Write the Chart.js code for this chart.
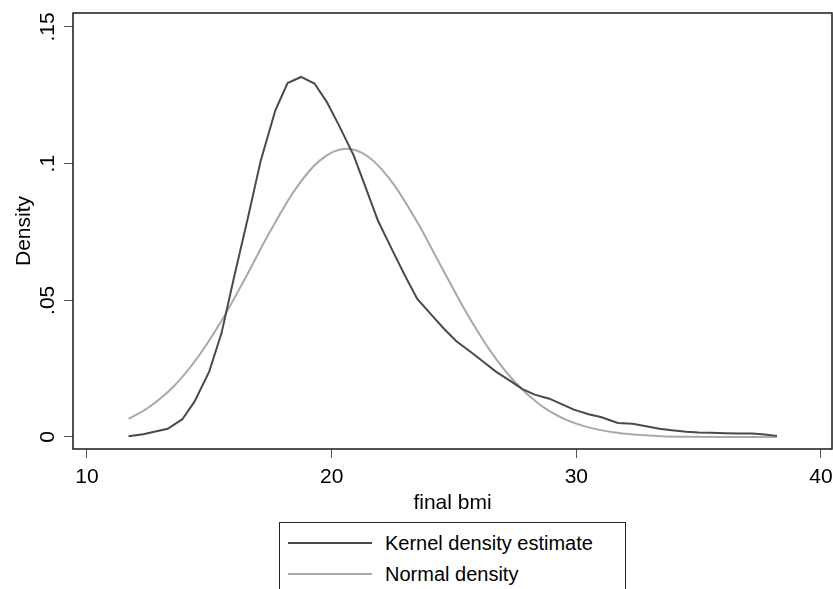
<!DOCTYPE html>
<html>
<head>
<meta charset="utf-8">
<script src="https://cdn.jsdelivr.net/npm/chart.js@4/dist/chart.umd.min.js"></script>
<style>
  html, body { margin: 0; padding: 0; background: #fff; }
  #wrap { position: relative; width: 833px; height: 589px; overflow: hidden; }
  #legend {
    position: absolute; left: 279px; top: 522px; width: 347px; height: 90px;
    border: 1px solid #222; background: #fff; box-sizing: border-box;
    font-family: "Liberation Sans", Arial, sans-serif; font-size: 20px; color: #000;
  }
  .row { position: absolute; left: 0; height: 24px; }
  .swatch { position: absolute; left: 8px; width: 84px; height: 2px; top: 11px; }
  .txt { position: absolute; left: 105px; top: 0; line-height: 24px; white-space: nowrap; }
</style>
</head>
<body>
<div id="wrap">
  <canvas id="c" width="833" height="589"></canvas>
  <div id="legend"></div>
</div>
<script>
// Kernel density estimate of final BMI (evaluation grid and density)
const kernelX = [11.7, 12.3, 12.8, 13.3, 13.9, 14.4, 15.0, 15.5, 16.0, 16.6,
                 17.1, 17.7, 18.2, 18.75, 19.3, 19.8, 20.3, 20.9, 21.4, 21.9,
                 22.5, 23.0, 23.5, 24.1, 24.6, 25.1, 25.7, 26.2, 26.7, 27.3,
                 27.8, 28.3, 28.9, 29.4, 29.9, 30.5, 31.0, 31.7, 32.3, 32.8,
                 33.4, 33.9, 34.5, 35.0, 35.5, 36.1, 36.6, 37.2, 37.7, 38.2];
const kernelY = [0.0003, 0.0010, 0.0020, 0.0030, 0.0065, 0.0130, 0.0240, 0.0380, 0.0580, 0.0810,
                 0.1010, 0.1195, 0.1295, 0.1317, 0.1293, 0.1226, 0.1140, 0.1030, 0.0910, 0.0790,
                 0.0680, 0.0590, 0.0505, 0.0445, 0.0395, 0.0350, 0.0310, 0.0275, 0.0240, 0.0205,
                 0.0175, 0.0155, 0.0140, 0.0120, 0.0100, 0.0083, 0.0073, 0.0051, 0.0048, 0.0040,
                 0.0030, 0.0025, 0.0019, 0.0016, 0.0015, 0.0014, 0.0013, 0.0013, 0.0009, 0.0004];

// Normal density with the same mean and standard deviation
const normalX = [11.7, 12.5, 13.5, 14.5, 15.5, 16.5, 17.5, 18.5, 19.5, 20.6,
                 21.5, 22.5, 23.5, 24.5, 25.5, 26.5, 27.5, 28.5, 29.5, 30.5,
                 31.5, 32.5, 33.5, 34.5, 36.0, 38.2];
const normalY = [0.0066, 0.0107, 0.0181, 0.0288, 0.0425, 0.0586, 0.0754, 0.0904, 0.1010, 0.1054,
                 0.1025, 0.0929, 0.0786, 0.0620, 0.0456, 0.0313, 0.0200, 0.0119, 0.0066, 0.0035,
                 0.0017, 0.0008, 0.0003, 0.0001, 0.0000, 0.0000];

const seriesLabels = ["Kernel density estimate", "Normal density"];
const xTickValues = [10, 20, 30, 40];
const yTickValues = [0, 0.05, 0.1, 0.15];
const yTickLabels = ["0", ".05", ".1", ".15"];
const xTitle = "final bmi";
const yTitle = "Density";

const colKernel = "#4a4a4a";
const colNormal = "#a9a9a9";
const FONT = "'Liberation Sans', Arial, sans-serif";

const toPoints = (xs, ys) => xs.map((x, i) => ({ x: x, y: ys[i] }));

// Box around the plot region and the rotated y tick labels
const framePlugin = {
  id: 'frame',
  afterDraw(chart) {
    const { ctx, chartArea: a } = chart;
    ctx.save();
    ctx.strokeStyle = '#1a1a1a';
    ctx.lineWidth = 1.5;
    ctx.strokeRect(a.left, a.top, a.right - a.left, a.bottom - a.top);
    const ys = chart.scales.y;
    ctx.fillStyle = '#000';
    ctx.font = '21px ' + FONT;
    ctx.textAlign = 'center';
    ctx.textBaseline = 'middle';
    yTickValues.forEach((v, i) => {
      ctx.save();
      ctx.translate(48, ys.getPixelForValue(v));
      ctx.rotate(-Math.PI / 2);
      ctx.fillText(yTickLabels[i], 0, 0);
      ctx.restore();
    });
    ctx.restore();
  }
};

Chart.defaults.font.family = FONT;
Chart.defaults.color = '#000';

new Chart(document.getElementById('c'), {
  type: 'line',
  data: {
    datasets: [
      { label: seriesLabels[0], data: toPoints(kernelX, kernelY), borderColor: colKernel,
        borderWidth: 2, pointRadius: 0, tension: 0, fill: false },
      { label: seriesLabels[1], data: toPoints(normalX, normalY), borderColor: colNormal,
        borderWidth: 2, pointRadius: 0, tension: 0.35, cubicInterpolationMode: 'monotone', fill: false }
    ]
  },
  options: {
    responsive: false,
    animation: false,
    events: [],
    layout: { padding: { left: 0, right: 1, top: 13, bottom: 73 } },
    plugins: { legend: { display: false }, tooltip: { enabled: false } },
    scales: {
      x: {
        type: 'linear', min: 9.43, max: 40.45,
        afterBuildTicks: s => { s.ticks = xTickValues.map(v => ({ value: v })); },
        afterFit: s => { s.height = 67; s.paddingLeft = 0; s.paddingRight = 0; },
        grid: { drawOnChartArea: false, drawTicks: true, tickLength: 9, color: '#555', lineWidth: 1 },
        border: { display: false },
        ticks: { font: { size: 21 }, padding: 7, maxRotation: 0, color: '#000',
                 callback: v => String(v) },
        title: { display: true, text: xTitle, font: { size: 21 }, padding: { top: 0, bottom: 0 }, color: '#000' }
      },
      y: {
        type: 'linear', min: -0.0044, max: 0.1551,
        afterBuildTicks: s => { s.ticks = yTickValues.map(v => ({ value: v })); },
        afterFit: s => { s.width = 73; s.paddingTop = 0; s.paddingBottom = 0; },
        grid: { drawOnChartArea: false, drawTicks: true, tickLength: 9, color: '#555', lineWidth: 1 },
        border: { display: false },
        ticks: { display: false },
        title: { display: true, text: yTitle, font: { size: 21 }, padding: { top: 12, bottom: 0 }, color: '#000' }
      }
    }
  },
  plugins: [framePlugin]
});

// Legend box below the plot
const legend = document.getElementById('legend');
[colKernel, colNormal].forEach((col, i) => {
  const row = document.createElement('div');
  row.className = 'row';
  row.style.top = (8 + i * 31) + 'px';
  row.innerHTML = '<div class="swatch" style="background:' + col + '"></div><div class="txt"></div>';
  row.querySelector('.txt').textContent = seriesLabels[i];
  legend.appendChild(row);
});
</script>
</body>
</html>
